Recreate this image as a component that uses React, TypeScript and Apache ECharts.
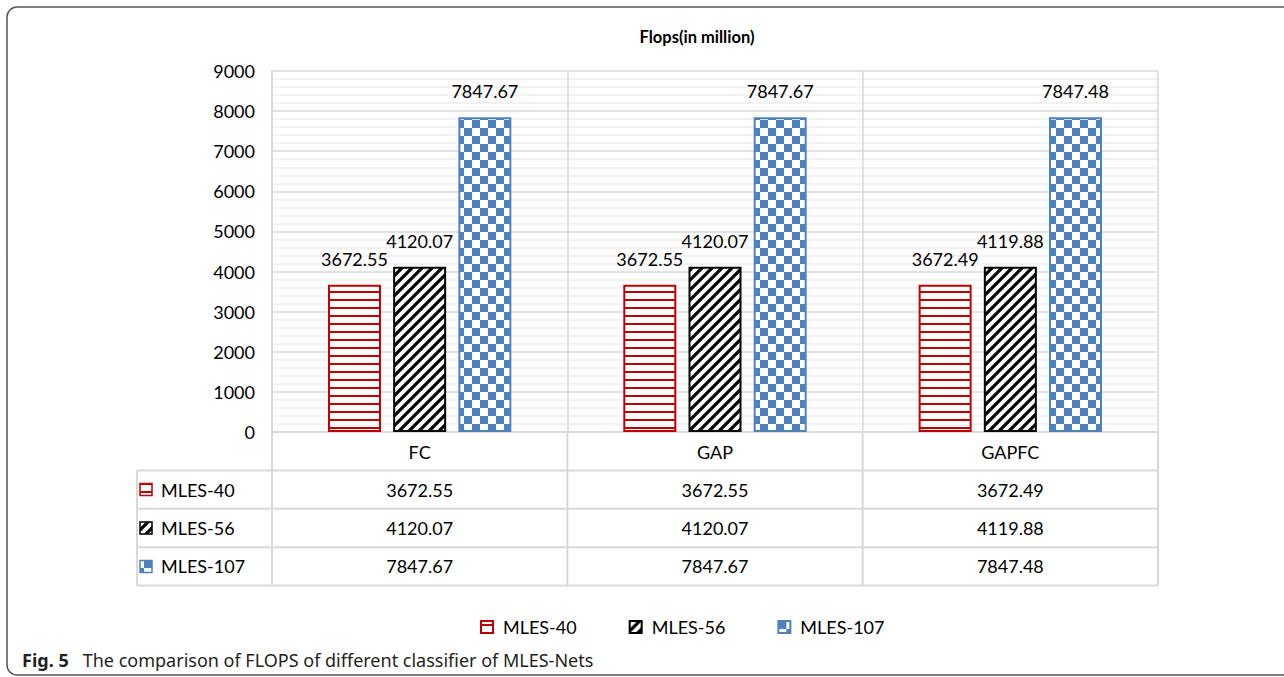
import React, { useEffect, useRef } from "react";
import * as echarts from "echarts";

const categories = ["FC", "GAP", "GAPFC"];
const seriesNames = ["MLES-40", "MLES-56", "MLES-107"];
const mles40 = [3672.55, 3672.55, 3672.49];
const mles56 = [4120.07, 4120.07, 4119.88];
const mles107 = [7847.67, 7847.67, 7847.48];
const seriesValues = [mles40, mles56, mles107];
const yMin = 0;
const yMax = 9000;
const yInterval = 1000;

const FONT = "Lato, 'Open Sans', sans-serif";
const CAPTION_FONT = "'Noto Sans', 'Open Sans', sans-serif";
const RED = "#c00000";
const BLACK = "#000000";
const BLUE = "#4f81bd";

function makeTile(w: number, h: number, draw: (ctx: CanvasRenderingContext2D) => void) {
  const c = document.createElement("canvas");
  c.width = w;
  c.height = h;
  const ctx = c.getContext("2d")!;
  ctx.fillStyle = "#ffffff";
  ctx.fillRect(0, 0, w, h);
  draw(ctx);
  return c;
}

export default function App() {
  const ref = useRef<HTMLDivElement>(null);
  useEffect(() => {
    if (!ref.current) return;
    const chart = echarts.init(ref.current, null, { renderer: "svg" });

    const redTile = makeTile(8, 8, (ctx) => {
      ctx.fillStyle = RED;
      ctx.fillRect(0, 3, 8, 2);
    });
    const blackTile = makeTile(10, 10, (ctx) => {
      ctx.strokeStyle = BLACK;
      ctx.lineWidth = 3.2;
      ctx.beginPath();
      ctx.moveTo(-2, 12);
      ctx.lineTo(12, -2);
      ctx.moveTo(-7, 7);
      ctx.lineTo(7, -7);
      ctx.moveTo(3, 17);
      ctx.lineTo(17, 3);
      ctx.stroke();
    });
    const blueTile = makeTile(16, 16, (ctx) => {
      ctx.fillStyle = BLUE;
      ctx.fillRect(0, 0, 8, 8);
      ctx.fillRect(8, 8, 8, 8);
    });
    const fills = [
      { image: redTile, repeat: "repeat" },
      { image: blackTile, repeat: "repeat" },
      { image: blueTile, repeat: "repeat" },
    ];
    const borders = [RED, BLACK, BLUE];

    const gridLeft = 272;
    const gridRight = 1158;
    const gridTop = 71;
    const gridBottom = 432;
    const cellW = (gridRight - gridLeft) / categories.length;
    const rowH = 38.4;
    const tableLeft = 137;

    const graphics: any[] = [];
    graphics.push({
      type: "rect",
      shape: { x: 7, y: 7, width: 1300, height: 668, r: 10 },
      style: { fill: "none", stroke: "#555555", lineWidth: 1.5 },
      z: -10,
      silent: true,
    });
    const lineStyle = { stroke: "#d9d9d9", lineWidth: 2 };
    const tableBottom = gridBottom + rowH * 4;
    for (let r = 1; r <= 4; r++) {
      const y = gridBottom + rowH * r;
      graphics.push({ type: "line", shape: { x1: tableLeft, y1: y, x2: gridRight, y2: y }, style: lineStyle, silent: true });
    }
    graphics.push({ type: "line", shape: { x1: tableLeft, y1: gridBottom + rowH, x2: tableLeft, y2: tableBottom }, style: lineStyle, silent: true });
    for (let c = 0; c <= categories.length; c++) {
      const x = gridLeft + cellW * c;
      graphics.push({ type: "line", shape: { x1: x, y1: gridBottom, x2: x, y2: tableBottom }, style: lineStyle, silent: true });
    }
    seriesNames.forEach((name, i) => {
      const yc = gridBottom + rowH * (i + 1.5);
      graphics.push({
        type: "rect",
        shape: { x: 140, y: yc - 6, width: 12, height: 12 },
        style: { fill: fills[i], stroke: borders[i], lineWidth: 1.5 },
        silent: true,
      });
      graphics.push({
        type: "text",
        x: 161,
        y: yc,
        style: { text: name, fontSize: 18, fontFamily: FONT, fill: "#000", verticalAlign: "middle", align: "left" },
        silent: true,
      });
      seriesValues[i].forEach((v, c) => {
        graphics.push({
          type: "text",
          x: gridLeft + cellW * (c + 0.5),
          y: yc,
          style: { text: v.toFixed(2), fontSize: 18, fontFamily: FONT, fill: "#000", verticalAlign: "middle", align: "center" },
          silent: true,
        });
      });
    });
    graphics.push({
      type: "text",
      x: 22,
      y: 660,
      style: {
        text: "{b|Fig. 5}   The comparison of FLOPS of different classifier of MLES-Nets",
        fontSize: 18,
        fontFamily: CAPTION_FONT,
        fill: "#231f20",
        verticalAlign: "middle",
        rich: { b: { fontWeight: "bold", fontSize: 18, fontFamily: CAPTION_FONT, fill: "#231f20" } },
      },
      silent: true,
    });

    chart.setOption({
      animation: false,
      backgroundColor: "#ffffff",
      title: {
        text: "Flops(in million)",
        left: 692,
        textAlign: "center",
        top: 23,
        textStyle: { fontSize: 16.5, fontWeight: "bold", fontFamily: FONT, color: "#000" },
      },
      legend: {
        left: 475,
        top: 613,
        itemWidth: 12,
        itemHeight: 12,
        itemGap: 52,
        icon: "rect",
        textStyle: { fontSize: 18, fontFamily: FONT, color: "#000", padding: [0, 0, 0, 5] },
        data: seriesNames,
      },
      grid: { left: gridLeft, right: 1284 - gridRight, top: gridTop, bottom: 677 - gridBottom, containLabel: false },
      xAxis: {
        type: "category",
        data: categories,
        axisLine: { show: true, lineStyle: { color: "#d9d9d9", width: 2 } },
        axisTick: { show: false },
        splitLine: { show: true, lineStyle: { color: "#d9d9d9", width: 1.5 } },
        axisLabel: { fontSize: 18, fontFamily: FONT, color: "#000", margin: 11 },
      },
      yAxis: {
        type: "value",
        min: yMin,
        max: yMax,
        interval: yInterval,
        axisLine: { show: true, lineStyle: { color: "#d9d9d9", width: 2 } },
        axisTick: { show: false },
        axisLabel: { fontSize: 18, fontFamily: FONT, color: "#000", margin: 17, formatter: (v: number) => String(v) },
        splitLine: { show: true, lineStyle: { color: "#d9d9d9", width: 1.5 } },
        minorTick: { show: false, splitNumber: 5 },
        minorSplitLine: { show: true, lineStyle: { color: "#eeeeee", width: 1.5 } },
      },
      series: seriesNames.map((name, i) => ({
        name,
        type: "bar",
        data: seriesValues[i],
        barWidth: 53,
        barGap: "23%",
        itemStyle: { color: fills[i], borderColor: borders[i], borderWidth: 2 },
        label: {
          show: true,
          position: "top",
          distance: 17,
          fontSize: 18,
          fontFamily: FONT,
          color: "#000",
          formatter: (p: any) => Number(p.value).toFixed(2),
        },
      })),
      graphic: graphics,
    });
    return () => chart.dispose();
  }, []);
  return <div ref={ref} style={{ position: "fixed", left: 0, top: 0, width: 1284, height: 677 }} />;
}
